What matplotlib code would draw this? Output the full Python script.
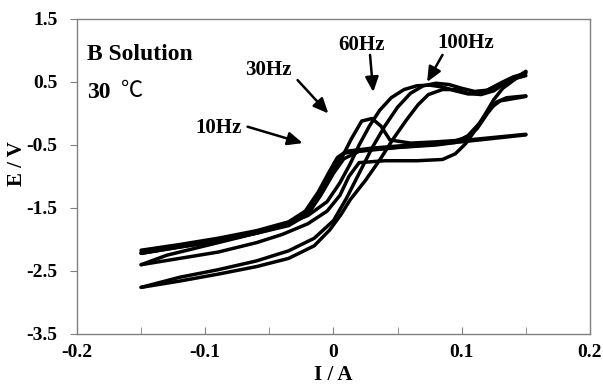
import matplotlib
matplotlib.use('Agg')
from matplotlib import pyplot as plt

plt.rcParams['font.family'] = ['Liberation Serif', 'Noto Sans CJK JP']

# loops: (current, potential) for the two branches of each frequency
i_10_up = [-0.15, -0.12, -0.09, -0.06, -0.035, -0.022, -0.012, -0.004, 0.003, 0.01, 0.03, 0.06, 0.1, 0.15]
e_10_up = [-2.17, -2.08, -1.98, -1.86, -1.72, -1.55, -1.25, -0.95, -0.7, -0.6, -0.55, -0.5, -0.43, -0.33]
i_10_dn = [-0.15, -0.12, -0.09, -0.06, -0.035, -0.024, -0.014, -0.006, 0.001, 0.008, 0.03, 0.06, 0.1, 0.15]
e_10_dn = [-2.22, -2.12, -2.02, -1.9, -1.76, -1.62, -1.35, -1.05, -0.78, -0.63, -0.57, -0.52, -0.45, -0.34]

i_30_up = [-0.15, -0.12, -0.09, -0.06, -0.035, -0.022, -0.012, -0.003, 0.006, 0.014, 0.022, 0.03, 0.037, 0.044, 0.06, 0.08, 0.095, 0.104, 0.112, 0.12, 0.127, 0.135, 0.15]
e_30_up = [-2.2, -2.1, -2.0, -1.88, -1.74, -1.58, -1.3, -1.0, -0.72, -0.4, -0.12, -0.08, -0.2, -0.42, -0.47, -0.45, -0.43, -0.38, -0.24, 0.0, 0.18, 0.25, 0.28]
i_30_dn = [-0.15, -0.12, -0.09, -0.06, -0.035, -0.02, -0.01, 0.0, 0.008, 0.02, 0.05, 0.08, 0.095, 0.105, 0.114, 0.122, 0.13, 0.15]
e_30_dn = [-2.22, -2.12, -2.03, -1.9, -1.78, -1.6, -1.3, -0.95, -0.72, -0.6, -0.54, -0.5, -0.46, -0.35, -0.15, 0.08, 0.2, 0.27]

i_60_up = [-0.15, -0.13, -0.1, -0.07, -0.04, -0.02, -0.005, 0.005, 0.013, 0.02, 0.028, 0.036, 0.045, 0.055, 0.065, 0.075, 0.085, 0.095, 0.105, 0.115, 0.125, 0.135, 0.15]
e_60_up = [-2.4, -2.25, -2.1, -1.95, -1.78, -1.62, -1.4, -1.1, -0.8, -0.5, -0.2, 0.05, 0.25, 0.38, 0.44, 0.45, 0.42, 0.36, 0.31, 0.32, 0.42, 0.52, 0.6]
i_60_dn = [-0.15, -0.12, -0.09, -0.06, -0.04, -0.02, -0.005, 0.005, 0.012, 0.02, 0.04, 0.065, 0.085, 0.095, 0.103, 0.11, 0.118, 0.125, 0.132, 0.14, 0.15]
e_60_dn = [-2.4, -2.3, -2.2, -2.05, -1.92, -1.75, -1.55, -1.3, -1.0, -0.78, -0.75, -0.75, -0.73, -0.64, -0.48, -0.28, -0.02, 0.22, 0.4, 0.52, 0.67]

i_100_up = [-0.15, -0.12, -0.09, -0.06, -0.035, -0.015, 0.0, 0.01, 0.02, 0.03, 0.04, 0.05, 0.06, 0.07, 0.08, 0.09, 0.1, 0.11, 0.12, 0.13, 0.14, 0.15]
e_100_up = [-2.76, -2.6, -2.48, -2.34, -2.18, -1.98, -1.7, -1.35, -0.95, -0.55, -0.2, 0.1, 0.32, 0.44, 0.48, 0.46, 0.4, 0.35, 0.37, 0.48, 0.58, 0.64]
i_100_dn = [-0.15, -0.12, -0.09, -0.06, -0.035, -0.015, -0.003, 0.006, 0.013, 0.025, 0.036, 0.046, 0.057, 0.066, 0.074, 0.085, 0.095, 0.105, 0.115, 0.125, 0.135, 0.15]
e_100_dn = [-2.76, -2.66, -2.55, -2.43, -2.3, -2.1, -1.85, -1.6, -1.37, -1.06, -0.74, -0.42, -0.1, 0.14, 0.3, 0.38, 0.38, 0.32, 0.3, 0.36, 0.5, 0.66]

loops = [(i_10_up, e_10_up), (i_10_dn, e_10_dn),
         (i_30_up, e_30_up), (i_30_dn, e_30_dn),
         (i_60_up, e_60_up), (i_60_dn, e_60_dn),
         (i_100_up, e_100_up), (i_100_dn, e_100_dn)]

# label text, text position, arrow tail and tip
freq_labels = ['10Hz', '30Hz', '60Hz', '100Hz']
label_pos = [(-0.09, -0.23), (-0.051, 0.69), (0.022, 1.09), (0.103, 1.12)]
arrow_tail = [(-0.067, -0.21), (-0.028, 0.53), (0.0285, 0.93), (0.085, 0.93)]
arrow_tip = [(-0.024, -0.47), (-0.004, 0.0), (0.031, 0.34), (0.073, 0.5)]

fig = plt.figure(figsize=(6.03, 3.89), dpi=100)
ax = fig.add_axes([0.1277, 0.1414, 0.8507, 0.8098])

for cur, pot in loops:
    ax.plot(cur, pot, color='black', lw=2.5, solid_capstyle='round', solid_joinstyle='round')

for lab, pos, tail, tip in zip(freq_labels, label_pos, arrow_tail, arrow_tip):
    ax.text(pos[0], pos[1], lab, ha='center', va='center', fontsize=15, fontweight='bold')
    ax.annotate('', xy=tip, xytext=tail,
                arrowprops=dict(arrowstyle='-|>,head_length=0.9,head_width=0.4',
                                color='black', lw=1.8, shrinkA=0, shrinkB=0))

ax.text(-0.192, 0.93, 'B Solution', ha='left', va='center', fontsize=17, fontweight='bold')
ax.text(-0.192, 0.34, '30', ha='left', va='center', fontsize=17, fontweight='bold')
ax.text(-0.166, 0.34, '℃', ha='left', va='center', fontsize=16)

ax.set_xlim(-0.2, 0.2)
ax.set_ylim(-3.5, 1.5)
ax.set_xticks([-0.2, -0.1, 0, 0.1, 0.2])
ax.set_xticklabels(['-0.2', '-0.1', '0', '0.1', '0.2'])
ax.set_xticks([-0.15, -0.05, 0.05, 0.15], minor=True)
ax.set_yticks([-3.5, -2.5, -1.5, -0.5, 0.5, 1.5])
ax.set_yticklabels(['-3.5', '-2.5', '-1.5', '-0.5', '0.5', '1.5'])

ax.tick_params(axis='x', which='both', direction='in', length=5, color='#808080', pad=7)
ax.tick_params(axis='y', direction='out', length=5, color='#808080', pad=9)
for lab in ax.get_xticklabels() + ax.get_yticklabels():
    lab.set_fontweight('bold')
    lab.set_fontsize(14)
for sp in ax.spines.values():
    sp.set_color('#808080')
    sp.set_linewidth(1.0)

ax.set_xlabel('I / A', fontsize=15, fontweight='bold')
ax.xaxis.set_label_coords(0.5, -0.1)
ax.set_ylabel('E / V', fontsize=15, fontweight='bold')
ax.yaxis.set_label_coords(-0.098, 0.54)

fig.savefig('out.png', dpi=100)
